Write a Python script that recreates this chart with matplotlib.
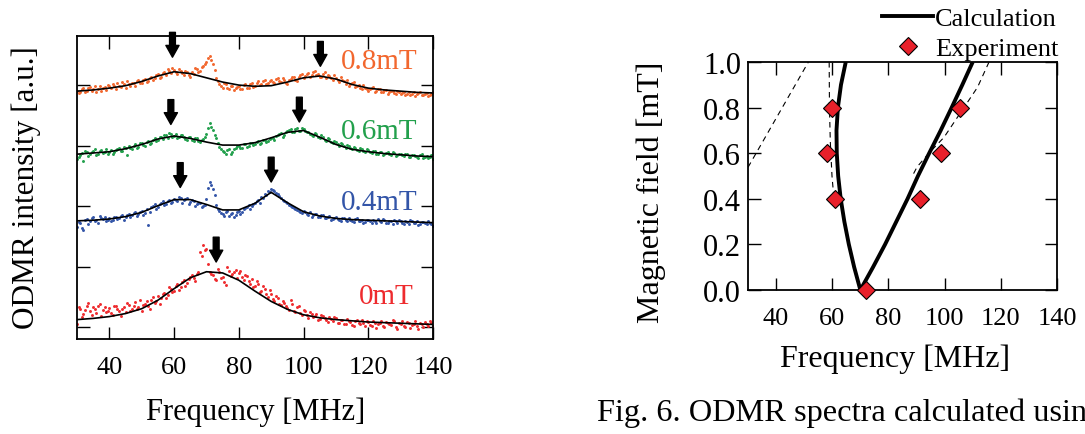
import numpy as np
import matplotlib
matplotlib.use('Agg')
import matplotlib.pyplot as plt
from matplotlib.lines import Line2D

plt.rcParams['font.family'] = ['Liberation Serif', 'DejaVu Serif']

# ---------------- data: left panel (ODMR spectra, a.u., offset traces) ----------------
freq = np.arange(30, 141, 1)          # MHz, experimental points (integer MHz)
freq_b = np.arange(30.5, 140, 1)      # MHz, experimental points (half MHz)
fit_freq = np.arange(30, 141, 5)      # MHz, fitted curve samples

data_0mT = [0.06, 0.30, 0.22, 0.35, 0.27, 0.33, 0.24, 0.38, 0.29, 0.25,
            0.32, 0.21, 0.36, 0.28, 0.31, 0.25, 0.37, 0.30, 0.42, 0.33,
            0.28, 0.39, 0.35, 0.46, 0.41, 0.52, 0.48, 0.57, 0.53, 0.63,
            0.60, 0.71, 0.66, 0.78, 0.74, 0.84, 0.81, 0.88, 1.25, 1.36,
            1.30, 0.92, 0.86, 0.78, 0.91, 0.84, 0.70, 0.93, 0.88, 0.95,
            0.90, 0.83, 0.87, 0.76, 0.80, 0.68, 0.72, 0.60, 0.64, 0.51,
            0.55, 0.44, 0.48, 0.37, 0.41, 0.32, 0.45, 0.28, 0.33, 0.24,
            0.29, 0.20, 0.25, 0.17, 0.22, 0.14, 0.19, 0.12, 0.17, 0.10,
            0.15, 0.08, 0.13, 0.06, 0.11, 0.04, 0.10, 0.07, 0.12, 0.03,
            0.09, 0.02, 0.08, 0.05, 0.11, 0.01, 0.07, 0.04, 0.10, -0.02,
            0.06, 0.03, 0.09, -0.01, 0.05, 0.02, 0.08, 0.00, 0.06, 0.10,
            0.03]
data_0mT_b = [0.33, 0.18, 0.29, 0.41, 0.20, 0.31, 0.36, 0.19, 0.34, 0.28,
              0.24, 0.35, 0.30, 0.19, 0.34, 0.40, 0.27, 0.35, 0.31, 0.45,
              0.37, 0.43, 0.30, 0.50, 0.44, 0.39, 0.55, 0.49, 0.66, 0.58,
              0.68, 0.62, 0.75, 0.69, 0.80, 0.86, 0.77, 0.92, 1.18, 1.28,
              1.05, 0.89, 0.80, 0.96, 0.82, 0.75, 0.99, 0.85, 0.92, 0.81,
              0.94, 0.79, 0.85, 0.72, 0.66, 0.77, 0.58, 0.69, 0.55, 0.62,
              0.47, 0.52, 0.39, 0.44, 0.35, 0.29, 0.38, 0.26, 0.36, 0.21,
              0.27, 0.15, 0.23, 0.19, 0.12, 0.21, 0.16, 0.09, 0.14, 0.18,
              0.07, 0.12, 0.05, 0.14, 0.09, 0.02, 0.13, 0.05, 0.08, 0.11,
              0.04, 0.10, -0.01, 0.07, 0.03, 0.09, 0.05, 0.12, 0.01, 0.07,
              0.10, 0.00, 0.07, 0.04, 0.11, -0.03, 0.05, 0.09, 0.02, 0.07]
data_04mT = [1.66, 1.72, 1.61, 1.79, 1.75, 1.82, 1.77, 1.84, 1.79, 1.76,
             1.81, 1.78, 1.83, 1.80, 1.86, 1.82, 1.88, 1.85, 1.91, 1.87,
             1.93, 1.89, 1.69, 1.98, 2.03, 1.99, 2.06, 2.02, 2.09, 2.05,
             2.12, 2.08, 2.14, 2.10, 2.13, 2.07, 2.09, 2.03, 2.06, 2.01,
             2.12, 2.40, 2.28, 2.02, 1.92, 1.87, 1.90, 1.84, 1.89, 1.86,
             1.93, 1.90, 1.97, 2.02, 2.00, 2.06, 2.11, 2.16, 2.21, 2.26,
             2.28, 2.25, 2.20, 2.14, 2.09, 2.05, 2.01, 1.97, 1.94, 1.91,
             1.93, 1.88, 1.90, 1.85, 1.87, 1.83, 1.86, 1.81, 1.84, 1.79,
             1.82, 1.78, 1.81, 1.77, 1.80, 1.76, 1.79, 1.75, 1.78, 1.74,
             1.77, 1.73, 1.76, 1.79, 1.74, 1.77, 1.72, 1.75, 1.78, 1.73,
             1.76, 1.71, 1.74, 1.77, 1.72, 1.75, 1.70, 1.74, 1.71, 1.73,
             1.68]
data_04mT_b = [1.74, 1.64, 1.78, 1.70, 1.81, 1.76, 1.73, 1.80, 1.83, 1.78,
               1.75, 1.82, 1.79, 1.84, 1.78, 1.85, 1.83, 1.89, 1.84, 1.90,
               1.86, 1.95, 1.91, 2.00, 1.96, 2.04, 2.08, 2.03, 2.11, 2.07,
               2.10, 2.15, 2.06, 2.12, 2.04, 2.10, 2.00, 2.05, 1.98, 2.02,
               2.31, 2.35, 2.18, 1.96, 1.89, 1.84, 1.93, 1.88, 1.83, 1.91,
               1.88, 1.95, 1.99, 1.96, 2.03, 2.08, 2.05, 2.13, 2.19, 2.24,
               2.27, 2.22, 2.17, 2.11, 2.07, 2.02, 1.99, 1.95, 1.92, 1.89,
               1.90, 1.86, 1.83, 1.88, 1.82, 1.85, 1.80, 1.83, 1.78, 1.81,
               1.79, 1.76, 1.80, 1.75, 1.78, 1.74, 1.80, 1.76, 1.73, 1.77,
               1.75, 1.78, 1.72, 1.75, 1.79, 1.73, 1.76, 1.71, 1.75, 1.77,
               1.72, 1.75, 1.70, 1.76, 1.73, 1.69, 1.74, 1.72, 1.75, 1.70]
data_06mT = [2.78, 2.84, 2.74, 2.90, 2.87, 2.92, 2.85, 2.91, 2.88, 2.94,
             2.90, 2.86, 2.93, 2.97, 2.91, 2.96, 2.99, 2.94, 3.02, 2.98,
             3.04, 3.00, 3.08, 3.05, 3.12, 3.09, 3.15, 3.18, 3.13, 3.20,
             3.16, 3.12, 3.18, 3.14, 3.10, 3.15, 3.08, 3.13, 3.06, 3.11,
             3.20, 3.37, 3.26, 3.12, 2.98, 2.92, 2.86, 2.95, 2.89, 2.97,
             3.00, 2.96, 3.03, 2.99, 3.05, 3.02, 3.08, 3.04, 3.10, 3.07,
             3.13, 3.10, 3.17, 3.21, 3.18, 3.24, 3.27, 3.22, 3.29, 3.25,
             3.28, 3.23, 3.20, 3.16, 3.19, 3.12, 3.15, 3.08, 3.11, 3.04,
             3.06, 3.00, 3.03, 2.97, 2.99, 2.94, 2.97, 2.92, 2.95, 2.90,
             2.93, 2.88, 2.91, 2.87, 2.90, 2.86, 2.89, 2.84, 2.88, 2.85,
             2.87, 2.83, 2.86, 2.82, 2.85, 2.81, 2.84, 2.80, 2.83, 2.81,
             2.78]
data_06mT_b = [2.81, 2.88, 2.92, 2.83, 2.89, 2.95, 2.87, 2.93, 2.89, 2.86,
               2.93, 2.89, 2.95, 2.92, 2.98, 2.85, 2.96, 3.00, 2.97, 3.04,
               3.01, 3.06, 3.03, 3.10, 3.07, 3.14, 3.11, 3.17, 3.21, 3.15,
               3.19, 3.14, 3.17, 3.11, 3.15, 3.09, 3.12, 3.07, 3.09, 3.14,
               3.30, 3.31, 3.18, 3.05, 2.95, 2.89, 2.93, 2.87, 2.94, 2.99,
               2.97, 3.02, 2.98, 3.04, 3.01, 3.06, 3.03, 3.09, 3.06, 3.11,
               3.12, 3.16, 3.19, 3.15, 3.22, 3.26, 3.23, 3.28, 3.24, 3.30,
               3.25, 3.22, 3.18, 3.21, 3.14, 3.17, 3.10, 3.13, 3.06, 3.08,
               3.03, 3.05, 2.99, 3.01, 2.96, 2.98, 2.93, 2.96, 2.91, 2.94,
               2.89, 2.92, 2.87, 2.90, 2.85, 2.88, 2.86, 2.89, 2.83, 2.86,
               2.84, 2.87, 2.81, 2.85, 2.83, 2.80, 2.86, 2.82, 2.79, 2.84]
data_08mT = [3.91, 3.88, 3.95, 3.90, 3.97, 3.93, 3.89, 3.99, 3.96, 3.92,
             3.98, 4.02, 3.94, 3.99, 4.05, 3.96, 4.01, 4.04, 3.99, 4.08,
             4.03, 4.10, 4.07, 4.14, 4.11, 4.18, 4.13, 4.22, 4.27, 4.20,
             4.25, 4.18, 4.23, 4.16, 4.21, 4.14, 4.19, 4.27, 4.24, 4.31,
             4.38, 4.48, 4.35, 4.12, 4.02, 3.96, 4.01, 3.93, 3.98, 3.95,
             3.99, 3.94, 4.02, 3.96, 4.04, 3.99, 4.06, 4.02, 4.08, 4.03,
             4.09, 4.04, 4.11, 4.05, 4.08, 4.02, 4.10, 4.13, 4.07, 4.16,
             4.12, 4.19, 4.14, 4.22, 4.17, 4.13, 4.18, 4.11, 4.15, 4.08,
             4.12, 4.05, 4.09, 4.02, 3.98, 4.04, 3.97, 4.00, 3.93, 3.96,
             3.91, 3.95, 3.89, 3.93, 3.88, 3.92, 3.86, 3.90, 3.87, 3.91,
             3.85, 3.89, 3.86, 3.83, 3.88, 3.85, 3.89, 3.84, 3.87, 3.83,
             3.88]
data_08mT_b = [3.87, 3.93, 3.89, 3.96, 3.91, 3.98, 3.94, 3.90, 3.97, 4.00,
               3.95, 3.99, 4.03, 3.97, 4.01, 4.06, 3.98, 4.03, 4.07, 4.04,
               4.09, 4.05, 4.12, 4.09, 4.16, 4.12, 4.20, 4.17, 4.24, 4.28,
               4.21, 4.26, 4.20, 4.24, 4.17, 4.22, 4.28, 4.21, 4.30, 4.34,
               4.44, 4.41, 4.25, 4.07, 3.98, 4.04, 3.95, 3.99, 3.92, 3.97,
               3.93, 4.00, 3.95, 4.01, 3.97, 4.03, 4.00, 4.06, 4.01, 4.07,
               4.05, 4.10, 4.06, 4.12, 4.03, 4.09, 4.14, 4.08, 4.13, 4.18,
               4.15, 4.20, 4.16, 4.23, 4.19, 4.14, 4.21, 4.16, 4.12, 4.17,
               4.09, 4.13, 4.06, 4.08, 4.01, 4.05, 3.99, 3.96, 4.00, 3.94,
               3.93, 3.97, 3.91, 3.94, 3.89, 3.92, 3.88, 3.91, 3.85, 3.89,
               3.87, 3.84, 3.88, 3.85, 3.82, 3.87, 3.84, 3.86, 3.82, 3.85]

fit_0mT = [0.13, 0.15, 0.18, 0.23, 0.31, 0.45, 0.64, 0.82, 0.92, 0.90, 0.78, 0.60,
           0.43, 0.30, 0.21, 0.16, 0.13, 0.11, 0.09, 0.08, 0.07, 0.06, 0.05]
fit_04mT = [1.76, 1.77, 1.79, 1.83, 1.90, 2.01, 2.11, 2.11, 2.03, 1.94, 1.94, 2.05,
            2.23, 2.06, 1.91, 1.84, 1.80, 1.78, 1.77, 1.76, 1.75, 1.74, 1.73]
fit_06mT = [2.86, 2.88, 2.90, 2.95, 3.02, 3.11, 3.16, 3.12, 3.06, 3.01, 3.01, 3.05,
            3.13, 3.22, 3.25, 3.14, 3.02, 2.94, 2.90, 2.87, 2.85, 2.83, 2.82]
fit_08mT = [3.90, 3.92, 3.95, 3.99, 4.06, 4.15, 4.22, 4.19, 4.12, 4.05, 4.00, 3.98,
            3.99, 4.05, 4.12, 4.15, 4.10, 4.01, 3.95, 3.92, 3.90, 3.88, 3.87]

trace_labels = ['0mT', '0.4mT', '0.6mT', '0.8mT']
trace_colors = ['#EE2B2E', '#3355A8', '#22A04C', '#F2672E']
label_x = [134.0, 135.3, 135.3, 135.3]
label_y = [0.52, 2.07, 3.24, 4.39]

# arrow tips (frequency, intensity) marking the peaks
arrow_f = [73.0, 61.9, 90.0, 59.0, 98.7, 59.5, 105.2]
arrow_y = [1.08, 2.31, 2.40, 3.35, 3.39, 4.46, 4.31]
arrow_len = 0.41

# ---------------- data: right panel (peak frequency vs field) ----------------
calc_B = [0.0, 0.1, 0.2, 0.3, 0.4, 0.5, 0.6, 0.7, 0.8, 0.9, 1.0]
calc_low = [70.0, 67.8, 65.9, 64.3, 63.0, 62.1, 61.6, 61.5, 62.0, 63.1, 64.8]
calc_high = [70.0, 74.5, 78.8, 82.8, 86.8, 90.5, 94.5, 98.6, 102.5, 106.3, 110.0]

dash1_f = [30.0, 51.5]
dash1_B = [0.538, 1.0]
dash2_f = [58.9, 59.0, 59.3, 59.9, 60.6]
dash2_B = [1.0, 0.80, 0.65, 0.50, 0.40]
dash3_f = [115.8, 111.7, 99.8, 94.4, 90.2, 88.5]
dash3_B = [1.0, 0.889, 0.67, 0.60, 0.54, 0.50]

exp_f = [72.0, 61.1, 91.1, 58.1, 98.6, 59.9, 105.5]
exp_B = [0.0, 0.4, 0.4, 0.6, 0.6, 0.8, 0.8]

xticks = [40, 60, 80, 100, 120, 140]
bticks = [0.0, 0.2, 0.4, 0.6, 0.8, 1.0]

# ---------------- figure ----------------
W, H = 1085, 435
fig = plt.figure(figsize=(W / 100, H / 100), dpi=100)

def px_axes(x0, y0, x1, y1):
    return fig.add_axes([x0 / W, 1 - y1 / H, (x1 - x0) / W, (y1 - y0) / H])

ax1 = px_axes(77, 37, 433, 340)
ax2 = px_axes(748, 63, 1057, 291)

# left panel
datas = [data_0mT, data_04mT, data_06mT, data_08mT]
datas_b = [data_0mT_b, data_04mT_b, data_06mT_b, data_08mT_b]
fits = [fit_0mT, fit_04mT, fit_06mT, fit_08mT]
for d, db, ft, c, lab, lx, ly in zip(datas, datas_b, fits, trace_colors, trace_labels,
                                     label_x, label_y):
    ax1.scatter(freq, d, s=4.5, color=c, linewidths=0, zorder=2)
    ax1.scatter(freq_b, db, s=4.5, color=c, linewidths=0, zorder=2)
    ax1.plot(fit_freq, ft, color='black', lw=1.2, zorder=3)
    ax1.text(lx, ly, lab, color=c, fontsize=21, ha='right', va='center', zorder=4)

for f, y in zip(arrow_f, arrow_y):
    ax1.annotate('', xy=(f, y), xytext=(f, y + arrow_len),
                 arrowprops=dict(arrowstyle='simple,head_length=0.85,head_width=0.95,tail_width=0.42',
                                 color='black', shrinkA=0, shrinkB=0, mutation_scale=10),
                 zorder=5, annotation_clip=False)

ax1.set_xlim(30, 140)
ax1.set_ylim(-0.19, 4.81)
ax1.set_xticks(xticks)
ax1.set_yticks([0, 1, 2, 3, 4])
ax1.set_yticklabels([])
ax1.tick_params(direction='in', top=True, right=True, length=9, width=1.0,
                labelsize=19, pad=12)

# right panel
for df, dB in ((dash1_f, dash1_B), (dash2_f, dash2_B), (dash3_f, dash3_B)):
    ax2.plot(df, dB, color='black', lw=0.8, ls=(0, (5, 4)), zorder=2)
ax2.plot(calc_low, calc_B, color='black', lw=2.8, zorder=3, solid_capstyle='butt')
ax2.plot(calc_high, calc_B, color='black', lw=2.8, zorder=3, solid_capstyle='butt')
ax2.plot(exp_f, exp_B, ls='none', marker='D', ms=9, mfc='#E8202A', mec='black',
         mew=0.8, zorder=4, clip_on=False)

ax2.set_xlim(30, 140)
ax2.set_ylim(0, 1.0)
ax2.set_xticks(xticks)
ax2.set_yticks(bticks)
ax2.set_yticklabels([f'{b:.1f}' for b in bticks])
ax2.tick_params(direction='in', top=True, right=True, length=9, width=1.0, pad=12)
ax2.tick_params(axis='x', labelsize=19)
ax2.tick_params(axis='y', labelsize=22, pad=5)

for ax in (ax1, ax2):
    for sp in ax.spines.values():
        sp.set_linewidth(1.3)

handles = [Line2D([], [], color='black', lw=2.8),
           Line2D([], [], ls='none', marker='D', ms=9, mfc='#E8202A', mec='black', mew=0.8)]
ax2.legend(handles, ['Calculation', 'Experiment'], loc='upper left',
           bbox_to_anchor=(882 / W, 1 - 8 / H), bbox_transform=fig.transFigure,
           frameon=False, fontsize=19, handlelength=1.95, handletextpad=0.05,
           labelspacing=0.24, borderpad=0, borderaxespad=0)

# axis labels and caption (caption is truncated at the right edge in the source)
fig.text(26 / W, 1 - 188 / H, 'ODMR intensity [a.u.]', rotation=90, ha='center',
         va='center', fontsize=22.5)
fig.text(256 / W, 1 - 412 / H, 'Frequency [MHz]', ha='center', va='center', fontsize=22)
fig.text(651 / W, 1 - 192 / H, 'Magnetic field [mT]', rotation=90, ha='center',
         va='center', fontsize=23)
fig.text(895 / W, 1 - 359 / H, 'Frequency [MHz]', ha='center', va='center', fontsize=23)
fig.text(597 / W, 1 - 413 / H, 'Fig. 6. ODMR spectra calculated usin', ha='left',
         va='center', fontsize=23.3)

fig.savefig('out.png', dpi=100)
